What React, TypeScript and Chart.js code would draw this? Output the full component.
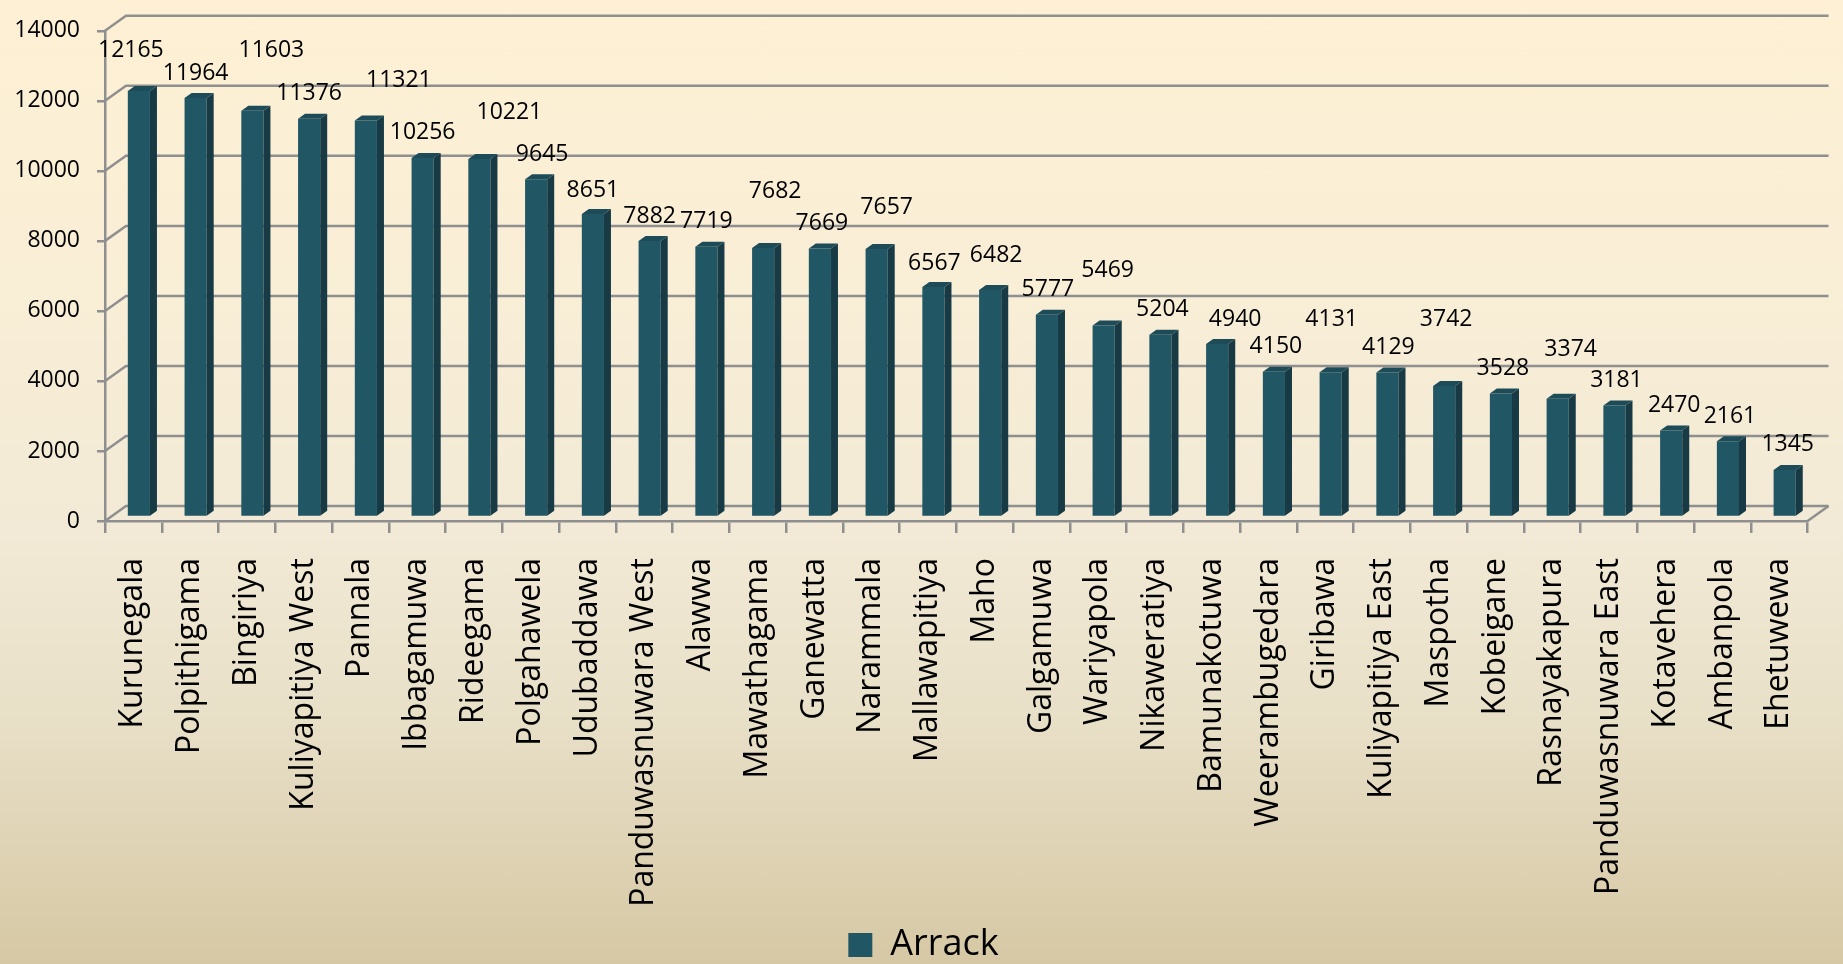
import React, { useEffect, useRef } from "react";
import { Chart, registerables } from "chart.js";

Chart.register(...registerables);

// ---------- data ----------
const categories: string[] = [
  "Kurunegala",
  "Polpithigama",
  "Bingiriya",
  "Kuliyapitiya West",
  "Pannala",
  "Ibbagamuwa",
  "Rideegama",
  "Polgahawela",
  "Udubaddawa",
  "Panduwasnuwara West",
  "Alawwa",
  "Mawathagama",
  "Ganewatta",
  "Narammala",
  "Mallawapitiya",
  "Maho",
  "Galgamuwa",
  "Wariyapola",
  "Nikaweratiya",
  "Bamunakotuwa",
  "Weerambugedara",
  "Giribawa",
  "Kuliyapitiya East",
  "Maspotha",
  "Kobeigane",
  "Rasnayakapura",
  "Panduwasnuwara East",
  "Kotavehera",
  "Ambanpola",
  "Ehetuwewa",
];

const arrackValues: number[] = [
  12165, 11964, 11603, 11376, 11321, 10256, 10221, 9645, 8651, 7882, 7719,
  7682, 7669, 7657, 6567, 6482, 5777, 5469, 5204, 4940, 4150, 4131, 4129,
  3742, 3528, 3374, 3181, 2470, 2161, 1345,
];

const seriesName = "Arrack";
const yMin = 0;
const yMax = 14000;
const yStep = 2000;

// ---------- styles ----------
const FONT = "'Open Sans', 'Noto Sans', sans-serif";
const GRID = "#8f8f8f";
const GRID_W = 2.5;
const FRONT = "#215665";
const SIDE = "#173a44";
const TOP = "#1d4b58";

// wall depth (3D look)
const WALL_DX = 21;
const WALL_DY = -15;
// bars sit a bit behind the front plane
const BAR_SHIFT_X = 5.5;
const BAR_SHIFT_Y = -4;
// bar depth
const BAR_DX = 7;
const BAR_DY = -5;

// label nudges relative to the front-face top centre (style only)
const labelNudge: [number, number][] = [
  [-8, -43], [0, -27], [19, -62], [0, -27], [33, -42], [0, -27], [30, -49],
  [6, -27], [0, -26], [0, -27], [0, -27], [12, -59], [2, -27], [10, -43],
  [1, -26], [6, -37], [1, -27], [4, -57], [2, -27], [18, -27], [2, -27],
  [1, -55], [1, -27], [2, -69], [2, -27], [13, -51], [2, -27], [3, -27],
  [2, -27], [3, -27],
];

const bar3d = {
  id: "bar3d",
  afterLayout(chart: any) {
    // let the y tick labels use the full left margin (no clipping)
    const y = chart.scales.y;
    if (y) y.left = 0;
  },
  beforeDatasetsDraw(chart: any) {
    const { ctx, chartArea, scales } = chart;
    const y = scales.y;
    ctx.save();
    ctx.strokeStyle = GRID;
    ctx.lineWidth = GRID_W;
    ctx.lineJoin = "miter";
    y.ticks.forEach((t: any) => {
      const py = y.getPixelForValue(t.value);
      ctx.beginPath();
      ctx.moveTo(chartArea.left, py);
      ctx.lineTo(chartArea.left + WALL_DX, py + WALL_DY);
      ctx.lineTo(chartArea.right + WALL_DX, py + WALL_DY);
      ctx.stroke();
    });
    const by = y.getPixelForValue(yMin);
    ctx.beginPath();
    ctx.moveTo(chartArea.right, by);
    ctx.lineTo(chartArea.right + WALL_DX, by + WALL_DY);
    ctx.stroke();
    ctx.restore();

    ctx.save();
    ctx.translate(BAR_SHIFT_X, BAR_SHIFT_Y);
  },
  afterDatasetsDraw(chart: any) {
    const ctx = chart.ctx;
    const meta = chart.getDatasetMeta(0);
    meta.data.forEach((bar: any) => {
      const { x, y, base, width } = bar.getProps(["x", "y", "base", "width"], true);
      const l = x - width / 2;
      const r = x + width / 2;
      ctx.fillStyle = SIDE;
      ctx.beginPath();
      ctx.moveTo(r, y);
      ctx.lineTo(r + BAR_DX, y + BAR_DY);
      ctx.lineTo(r + BAR_DX, base + BAR_DY);
      ctx.lineTo(r, base);
      ctx.closePath();
      ctx.fill();
      ctx.fillStyle = TOP;
      ctx.beginPath();
      ctx.moveTo(l, y);
      ctx.lineTo(l + BAR_DX, y + BAR_DY);
      ctx.lineTo(r + BAR_DX, y + BAR_DY);
      ctx.lineTo(r, y);
      ctx.closePath();
      ctx.fill();
    });
    ctx.restore();

    // data labels
    ctx.save();
    ctx.font = `23px ${FONT}`;
    ctx.fillStyle = "#000";
    ctx.textAlign = "center";
    ctx.textBaseline = "middle";
    meta.data.forEach((bar: any, i: number) => {
      const { x, y } = bar.getProps(["x", "y"], true);
      const [dx, dy] = labelNudge[i] || [0, -27];
      const v = chart.data.datasets[0].data[i];
      ctx.fillText(String(v), x + BAR_SHIFT_X + dx, y + BAR_SHIFT_Y + dy + 2);
    });
    ctx.restore();
  },
};

export default function App() {
  const canvasRef = useRef<HTMLCanvasElement | null>(null);

  useEffect(() => {
    const canvas = canvasRef.current;
    if (!canvas) return;
    const chart = new Chart(canvas, {
      type: "bar",
      data: {
        labels: categories,
        datasets: [
          {
            label: seriesName,
            data: arrackValues,
            backgroundColor: FRONT,
            borderWidth: 0,
            barPercentage: 0.39,
            categoryPercentage: 1,
          },
        ],
      },
      plugins: [bar3d],
      options: {
        responsive: false,
        animation: false,
        devicePixelRatio: 1,
        layout: { padding: { left: 29, right: 25, top: 24, bottom: 0 } },
        plugins: {
          tooltip: { enabled: false },
          legend: {
            position: "bottom",
            maxHeight: 37,
            labels: {
              boxWidth: 24,
              boxHeight: 24,
              padding: 0,
              color: "#000",
              font: { family: FONT, size: 36 },
            },
          },
        },
        scales: {
          x: {
            offset: true,
            grid: {
              display: true,
              offset: true,
              drawOnChartArea: false,
              drawTicks: true,
              tickLength: 12,
              color: GRID,
              lineWidth: GRID_W,
            },
            border: { display: true, color: GRID, width: GRID_W },
            ticks: {
              autoSkip: false,
              maxRotation: 90,
              minRotation: 90,
              padding: 25,
              color: "#000",
              font: { family: FONT, size: 32 },
            },
            afterFit: (s: any) => {
              s.height = 406;
            },
          },
          y: {
            min: yMin,
            max: yMax,
            ticks: {
              stepSize: yStep,
              padding: 17,
              color: "#000",
              font: { family: FONT, size: 23 },
              callback: (v: any) => String(v),
            },
            grid: {
              display: true,
              drawOnChartArea: false,
              drawTicks: true,
              tickLength: 8,
              color: GRID,
              lineWidth: GRID_W,
            },
            border: { display: true, color: GRID, width: GRID_W },
            afterFit: (s: any) => {
              s.width = 76;
            },
          },
        },
      },
    } as any);
    return () => chart.destroy();
  }, []);

  return (
    <div
      style={{
        position: "fixed",
        left: 0,
        top: 0,
        width: 1843,
        height: 964,
        background:
          "linear-gradient(to bottom, #fdf0d4 0%, #f9eed6 30%, #f2ead6 55%, #e8dfc7 75%, #d6c8a4 100%)",
      }}
    >
      <canvas ref={canvasRef} width={1843} height={964} style={{ display: "block" }} />
    </div>
  );
}
